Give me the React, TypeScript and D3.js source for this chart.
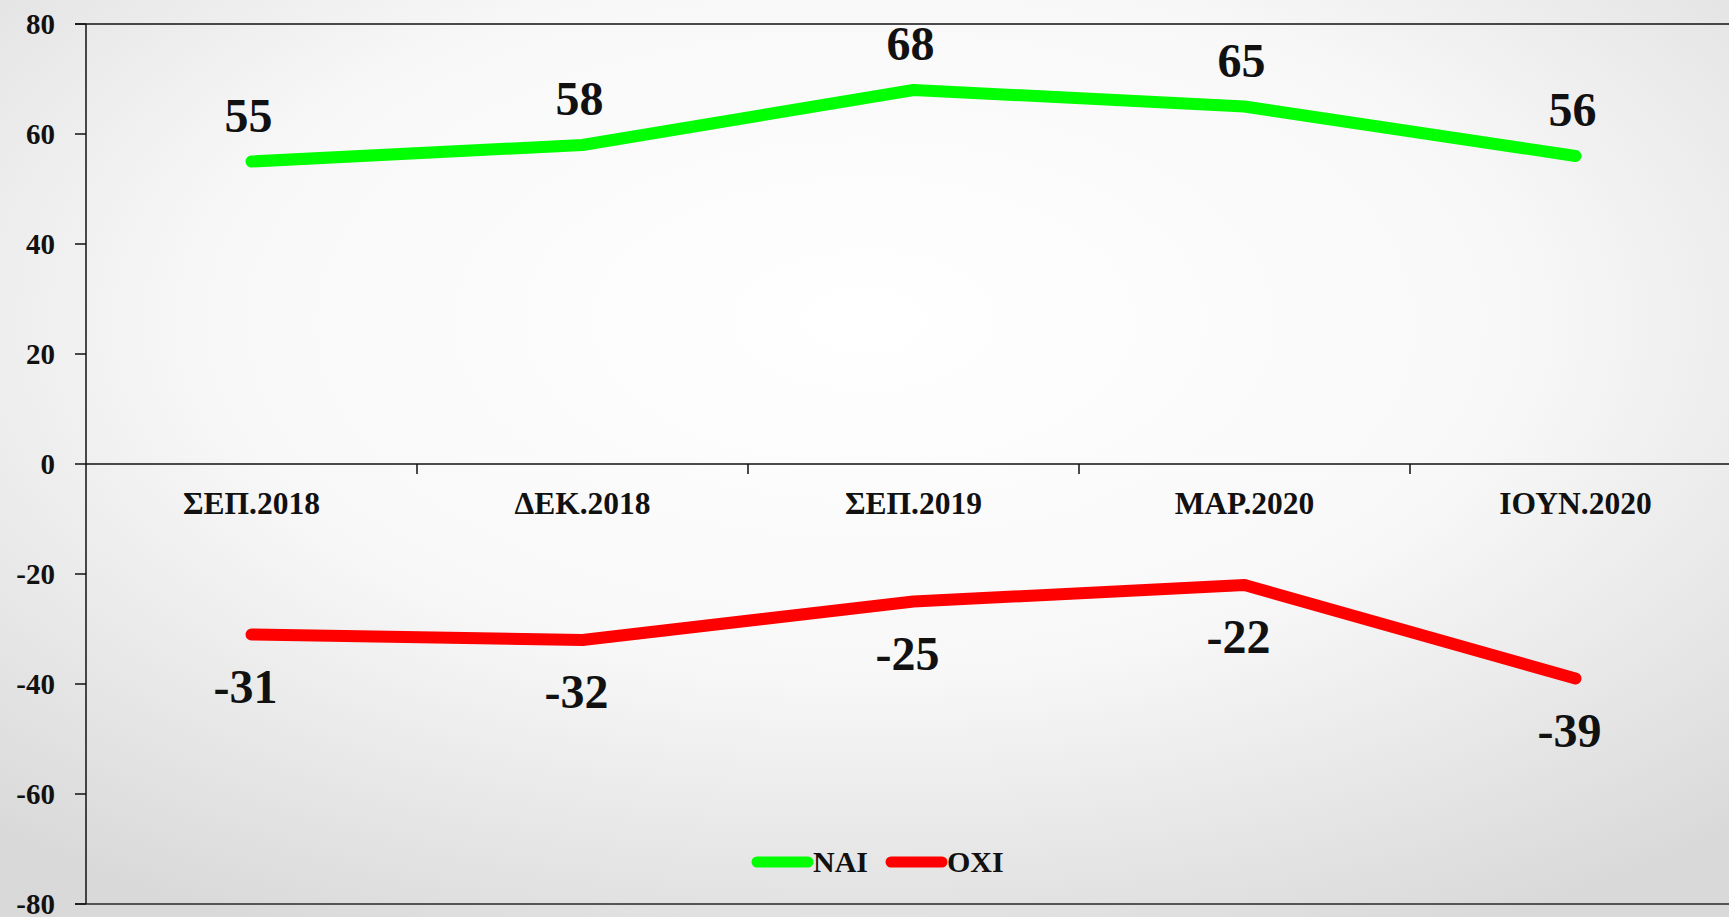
import React, { useEffect, useRef } from "react";
import * as d3 from "d3";

// survey waves
const categories = ["ΣΕΠ.2018", "ΔΕΚ.2018", "ΣΕΠ.2019", "ΜΑΡ.2020", "ΙΟΥΝ.2020"];
const naiValues = [55, 58, 68, 65, 56];
const oxiValues = [-31, -32, -25, -22, -39];
const yTicks = [80, 60, 40, 20, 0, -20, -40, -60, -80];
const seriesNames = ["ΝΑΙ", "ΟΧΙ"];
const seriesColors = ["#00ff00", "#ff0000"];

const W = 1729;
const H = 917;
const FONT = "'Liberation Serif', 'Times New Roman', serif";

export default function App() {
  const ref = useRef<SVGSVGElement>(null);

  useEffect(() => {
    const svg = d3.select(ref.current);
    svg.selectAll("*").remove();

    const left = 86, right = 1741, top = 24, bottom = 904;

    // background radial gradient
    const defs = svg.append("defs");
    const grad = defs.append("radialGradient").attr("id", "bgGrad")
      .attr("cx", "50%").attr("cy", "35%").attr("r", "75%");
    grad.append("stop").attr("offset", "0%").attr("stop-color", "#ffffff");
    grad.append("stop").attr("offset", "50%").attr("stop-color", "#f8f8f8");
    grad.append("stop").attr("offset", "100%").attr("stop-color", "#d9d9d9");
    svg.append("rect").attr("width", W).attr("height", H).attr("fill", "url(#bgGrad)");

    const x = d3.scaleBand<string>().domain(categories).range([left, right]);
    const y = d3.scaleLinear().domain([-80, 80]).range([bottom, top]);
    const cx = (c: string) => (x(c) as number) + x.bandwidth() / 2;

    // top frame line + bottom line
    svg.append("line").attr("x1", left - 11).attr("x2", W).attr("y1", y(80)).attr("y2", y(80))
      .attr("stroke", "#111").attr("stroke-width", 1.5);
    svg.append("line").attr("x1", left - 11).attr("x2", W).attr("y1", y(-80)).attr("y2", y(-80))
      .attr("stroke", "#555").attr("stroke-width", 2);

    // y axis
    svg.append("line").attr("x1", left).attr("x2", left).attr("y1", top).attr("y2", bottom)
      .attr("stroke", "#111").attr("stroke-width", 1.5);
    const yg = svg.append("g");
    yg.selectAll("line").data(yTicks).join("line")
      .attr("x1", left - 11).attr("x2", left).attr("y1", d => y(d)).attr("y2", d => y(d))
      .attr("stroke", "#111").attr("stroke-width", 1.5);
    yg.selectAll("text").data(yTicks).join("text")
      .attr("x", 55).attr("y", d => y(d)).attr("dy", "0.35em")
      .attr("text-anchor", "end").attr("font-family", FONT).attr("font-weight", "bold")
      .attr("font-size", 29).attr("fill", "#111").text(d => d);

    // zero line (category axis)
    svg.append("line").attr("x1", left).attr("x2", W).attr("y1", y(0)).attr("y2", y(0))
      .attr("stroke", "#111").attr("stroke-width", 1.5);
    svg.append("g").selectAll("line").data(categories.slice(1)).join("line")
      .attr("x1", d => x(d) as number).attr("x2", d => x(d) as number)
      .attr("y1", y(0)).attr("y2", y(0) + 10).attr("stroke", "#111").attr("stroke-width", 1.5);
    svg.append("g").selectAll("text").data(categories).join("text")
      .attr("x", d => cx(d)).attr("y", 514).attr("text-anchor", "middle")
      .attr("font-family", FONT).attr("font-weight", "bold").attr("font-size", 31.5)
      .attr("fill", "#111").text(d => d);

    const line = d3.line<number>().x((_, i) => cx(categories[i])).y(d => y(d));

    [naiValues, oxiValues].forEach((vals, si) => {
      svg.append("path").datum(vals).attr("d", line).attr("fill", "none")
        .attr("stroke", seriesColors[si]).attr("stroke-width", 12)
        .attr("stroke-linecap", "round").attr("stroke-linejoin", "round");
      svg.append("g").selectAll("text").data(vals).join("text")
        .attr("x", (d, i) => cx(categories[i]) + (d < 0 ? -6 : -3))
        .attr("y", d => y(d) + (d < 0 ? 68 : -30))
        .attr("text-anchor", "middle").attr("font-family", FONT).attr("font-weight", "bold")
        .attr("font-size", 48).attr("fill", "#111").text(d => d);
    });

    // legend
    const legendX = [752, 886];
    seriesNames.forEach((name, i) => {
      const g = svg.append("g").attr("transform", `translate(${legendX[i]},862)`);
      g.append("line").attr("x1", 5).attr("x2", 56).attr("y1", 0).attr("y2", 0)
        .attr("stroke", seriesColors[i]).attr("stroke-width", 11).attr("stroke-linecap", "round");
      g.append("text").attr("x", 61).attr("y", 10).attr("font-family", FONT)
        .attr("font-weight", "bold").attr("font-size", 30).attr("fill", "#111").text(name);
    });
  }, []);

  return (
    <svg ref={ref} width={W} height={H}
      style={{ position: "absolute", left: 0, top: 0, display: "block" }} />
  );
}
